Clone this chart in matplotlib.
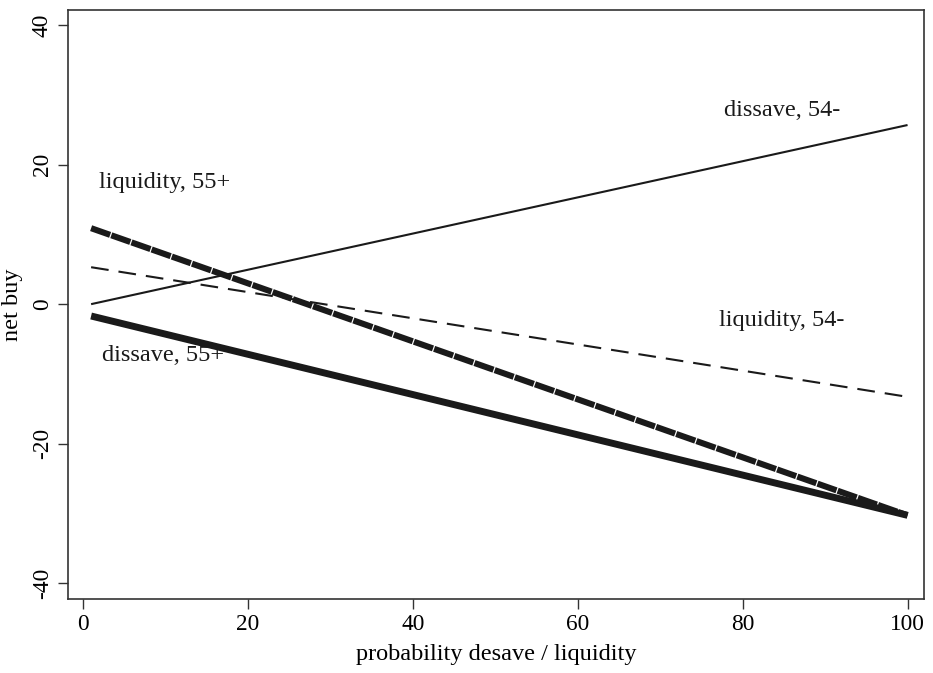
import matplotlib
matplotlib.use('Agg')
import matplotlib.pyplot as plt

plt.rcParams['font.family'] = ['Liberation Serif', 'DejaVu Serif']
plt.rcParams['axes.unicode_minus'] = False

# fitted lines, endpoints
x_vals = [1, 100]
dissave_54 = [0.0, 25.7]
liquidity_54 = [5.3, -13.3]
liquidity_55 = [10.9, -30.3]
dissave_55 = [-1.7, -30.3]

labels = ['dissave, 54-', 'liquidity, 54-', 'liquidity, 55+', 'dissave, 55+']
label_x = [84.8, 84.7, 9.9, 9.7]
label_y = [27.8, -2.3, 17.5, -7.4]

x_ticks = [0, 20, 40, 60, 80, 100]
y_ticks = [-40, -20, 0, 20, 40]

fig = plt.figure(figsize=(9.33, 6.73), dpi=100)
ax = fig.add_axes([0.0729, 0.1100, 0.9175, 0.8751])

ink = '#1a1a1a'
ax.plot(x_vals, dissave_54, color=ink, lw=1.5, solid_capstyle='butt')
ax.plot(x_vals, liquidity_54, color=ink, lw=1.5, dashes=(8.5, 4.8), dash_capstyle='butt')
ax.plot(x_vals, liquidity_55, color=ink, lw=4.4, dashes=(3.3, 0.2), dash_capstyle='butt')
ax.plot(x_vals, dissave_55, color=ink, lw=5.0, solid_capstyle='butt')

for txt, tx, ty in zip(labels, label_x, label_y):
    ax.text(tx, ty, txt, fontsize=17.5, color=ink, ha='center', va='center')

ax.set_xlim(-1.8, 102)
ax.set_ylim(-42.3, 42.2)
ax.set_xticks(x_ticks)
ax.set_yticks(y_ticks)
ax.tick_params(length=7, width=1, color='#333333', labelsize=16.8, pad=4)
ax.tick_params(axis='y', labelrotation=90)
for lab in ax.get_yticklabels():
    lab.set_va('center')

for sp in ax.spines.values():
    sp.set_color('#333333')
    sp.set_linewidth(1.2)

ax.set_xlabel('probability desave / liquidity', fontsize=17.5, labelpad=6)
ax.set_ylabel('net buy', fontsize=17.5, labelpad=6)

fig.savefig('out.png', dpi=100)
